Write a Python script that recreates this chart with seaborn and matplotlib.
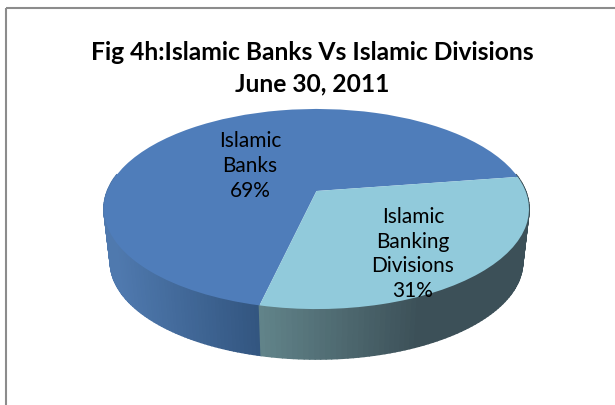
import numpy as np
import matplotlib
matplotlib.use("Agg")
import matplotlib.pyplot as plt
import seaborn as sns
from matplotlib.collections import PolyCollection
from matplotlib.colors import to_rgb
from matplotlib.patches import Rectangle
from matplotlib.transforms import Transform

# Chart data
categories = ["Islamic\nBanks", "Islamic\nBanking\nDivisions"]
shares = [69, 31]
title_lines = ["Fig 4h:Islamic Banks Vs Islamic Divisions", "June 30, 2011"]

# Styling
top_colors = sns.color_palette(["#4F7DBA", "#91CADB"])
wall_ramps = [("#4F79AE", "#32557F"), ("#618389", "#3C5058")]
START_ANGLE = 8.6
HUB = (316.5, 192.0)
TILT = 0.18
RADIUS_X, RADIUS_Y = 209.0, 96.8
WALL_SCALE, WALL_DROP = 0.97, 53.5

sns.set_theme(style="white")
plt.rcParams["font.family"] = ["Lato", "DejaVu Sans"]


def project(u, v, scale=1.0, drop=0.0):
    """Map points of the unit pie to the tilted view, in pixel units."""
    w = 1 + TILT * v
    return HUB[0] + scale * RADIUS_X * u / w, HUB[1] - scale * RADIUS_Y * v / w + drop


class TiltedPie(Transform):
    input_dims = output_dims = 2

    def transform_non_affine(self, values):
        x, y = project(values[:, 0], values[:, 1])
        return np.column_stack([x, y])


fig = plt.figure(figsize=(6.15, 4.06), dpi=100, facecolor="white")
ax = fig.add_axes([0, 0, 1, 1])
wedges, _ = ax.pie(shares, colors=top_colors, startangle=START_ANGLE, radius=1.0)

ax.set_aspect("auto")
ax.set_xlim(0, 615)
ax.set_ylim(406, 0)
ax.axis("off")

tilt = TiltedPie()
for wedge in wedges:
    wedge.set_transform(tilt + ax.transData)
    wedge.set_linewidth(0)
    wedge.set_zorder(3)

# Side wall of the disc, shaded in strips under each slice
seam = START_ANGLE + 360 * shares[0] / sum(shares)
spans = [(170.0, seam), (seam, 370.0)]
shade_ends = [(0.0, 1.0), (0.0, 0.62)]
for (a0, a1), (c0, c1), (s0, s1) in zip(spans, wall_ramps, shade_ends):
    theta = np.radians(np.linspace(a0, a1, 90))
    top_x, top_y = project(np.cos(theta), np.sin(theta))
    low_x, low_y = project(np.cos(theta), np.sin(theta), WALL_SCALE, WALL_DROP)
    quads, face = [], []
    x_start, x_end = top_x[0], top_x[-1]
    for i in range(len(theta) - 1):
        quads.append([(top_x[i], top_y[i]), (top_x[i + 1], top_y[i + 1]),
                      (low_x[i + 1], low_y[i + 1]), (low_x[i], low_y[i])])
        t = (top_x[i] - x_start) / (x_end - x_start)
        t = np.clip((t - s0) / (s1 - s0), 0, 1)
        face.append(tuple((1 - t) * np.array(to_rgb(c0)) + t * np.array(to_rgb(c1))))
    ax.add_collection(PolyCollection(quads, facecolors=face, edgecolors=face,
                                     linewidths=1.2, zorder=2))

# Outer frame, open towards the right and bottom edges
ax.add_patch(Rectangle((5.5, 8.5), 700, 500, fill=False, edgecolor="#8C8C8C",
                       linewidth=1.5, zorder=1))

# Titles
ax.text(312.5, 52, title_lines[0], ha="center", va="center", fontsize=17.7,
        fontweight="bold", color="black", zorder=5)
ax.text(312.5, 84, title_lines[1], ha="center", va="center", fontsize=17.7,
        fontweight="bold", color="black", zorder=5)

# Slice labels, percentages taken from the shares
label_anchors = [(250, 166), (413, 254)]
for name, share, (lx, ly) in zip(categories, shares, label_anchors):
    ax.text(lx, ly, f"{name}\n{share}%", ha="center", va="center", fontsize=15,
            color="black", linespacing=1.3, zorder=5)

fig.savefig("out.png", dpi=100)
